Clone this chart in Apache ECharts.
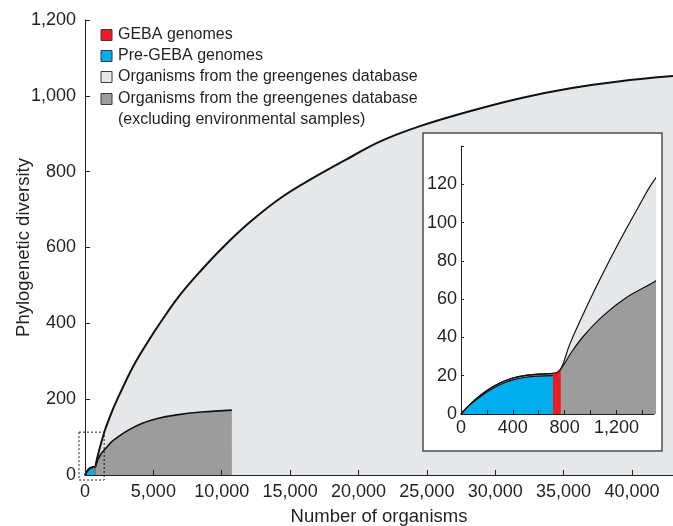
<!DOCTYPE html>
<html><head><meta charset="utf-8">
<script src="https://cdn.jsdelivr.net/npm/echarts@6/dist/echarts.min.js"></script>
<style>html,body{margin:0;padding:0;background:#fff}#c{width:673px;height:526px}</style>
</head><body><div id="c"></div>
<script>
// ---- data ----
const allOrganisms = [[0,0],[100,7],[200,12.3],[300,16.2],[400,18.8],[500,20.2],[600,20.8],[720,21.2],[770,23.5],[840,36.5],[970,56],[1100,74],[1230,91],[1360,107],[1490,122],[2000,170],[2560,215],[3500,285],[4520,347],[5700,412],[6950,475],[8500,540],[10130,602],[12000,665],[14280,730],[17000,790],[19500,840],[21600,880],[24500,920],[28200,960],[32000,995],[35500,1020],[39000,1038],[43000,1052]];
const culturedOrganisms = [[0,0],[100,7],[200,12.3],[300,16.2],[400,18.8],[500,20.2],[600,20.8],[720,21.2],[770,23.5],[850,32],[950,41],[1100,51.5],[1280,61],[1490,69],[1900,86],[2440,101],[3200,119],[4150,136],[5300,149],[6590,158],[8500,166],[10740,171]];
const preGeba = [[0,0],[40,3],[100,6.5],[200,11.5],[300,15.3],[400,17.8],[500,19.2],[600,19.8],[710,20]];
const geba = [[710,20.4],[770,23.3]];
const zoomBox = [1400, 113];

const mainXTicks = [0,5000,10000,15000,20000,25000,30000,35000,40000];
const insetXTicks = [0,200,400,600,800,1000,1200,1400];
const insetXLabels = [0,400,800,1200];

const legendLabels = ['GEBA genomes','Pre-GEBA genomes','Organisms from the greengenes database','Organisms from the greengenes database\n(excluding environmental samples)'];
const legendColors = ['#ed1c24','#00aeef','#e6e7e8','#9c9c9c'];

const FONT = 'Liberation Sans, Arial, Helvetica, sans-serif';
const TXT = '#231f20';
const fmt = v => v.toLocaleString('en-US');

const chart = echarts.init(document.getElementById('c'), null, {renderer:'canvas'});

function areaSeries(data, color, lineColor, lineWidth, xi, z) {
  return {
    type:'line', data, xAxisIndex:xi, yAxisIndex:xi, z,
    smooth:0.4, showSymbol:false, symbol:'none',
    lineStyle:{color:lineColor, width:lineWidth},
    areaStyle:{color, opacity:1}, itemStyle:{color}, silent:true, animation:false
  };
}

function axisCommon(z) {
  return {
    z,
    axisLine:{show:true, lineStyle:{color:'#231f20', width:1}},
    axisTick:{show:true, inside:true, length:5, lineStyle:{color:'#231f20', width:1}},
    splitLine:{show:false},
    axisLabel:{color:TXT, fontFamily:FONT, fontSize:18}
  };
}

// legend graphics
const legendGraphics = [];
const legendY = [35, 56, 77, 99];
legendLabels.forEach((lab, i) => {
  legendGraphics.push({type:'rect', z:6, shape:{x:101, y:legendY[i]-5.5, width:11, height:11},
    style:{fill:legendColors[i], stroke:'#3a3a3a', lineWidth:1}});
  lab.split('\n').forEach((line, j) => {
    legendGraphics.push({type:'text', z:6, x:118, y:legendY[i] + j*21,
      style:{text:line, fill:TXT, font:'16px ' + FONT, verticalAlign:'middle', align:'left'}});
  });
});

const option = {
  animation:false,
  backgroundColor:'#fff',
  grid:[
    {left:85, right:0, top:20, bottom:51, containLabel:false, outerBoundsMode:'none'},
    {left:461, top:146, width:193, height:268, containLabel:false, outerBoundsMode:'none'}
  ],
  xAxis:[
    Object.assign(axisCommon(3), {type:'value', gridIndex:0, min:0, max:43000,
      name:'Number of organisms', nameLocation:'middle', nameGap:32, nameMoveOverlap:false,
      nameTextStyle:{color:TXT, fontFamily:FONT, fontSize:18.5},
      axisTick:{show:true, inside:true, length:5, customValues:mainXTicks, lineStyle:{color:'#231f20'}},
      axisLabel:{color:TXT, fontFamily:FONT, fontSize:18, margin:8, customValues:mainXTicks, formatter:fmt}}),
    Object.assign(axisCommon(5), {type:'value', gridIndex:1, min:0, max:1490,
      axisTick:{show:true, inside:true, length:4, customValues:insetXTicks, lineStyle:{color:'#231f20'}},
      axisLabel:{color:TXT, fontFamily:FONT, fontSize:18, margin:5, customValues:insetXLabels, formatter:fmt}})
  ],
  yAxis:[
    Object.assign(axisCommon(3), {type:'value', gridIndex:0, min:0, max:1200, interval:200,
      name:'Phylogenetic diversity', nameLocation:'middle', nameGap:52, nameMoveOverlap:false,
      nameTextStyle:{color:TXT, fontFamily:FONT, fontSize:18.5},
      axisLabel:{color:TXT, fontFamily:FONT, fontSize:18, margin:9, formatter:fmt}}),
    Object.assign(axisCommon(5), {type:'value', gridIndex:1, min:0, max:140, interval:20,
      axisTick:{show:true, inside:true, length:3, lineStyle:{color:'#231f20'}},
      axisLabel:{color:TXT, fontFamily:FONT, fontSize:18, margin:4, formatter:v => v === 140 ? '' : fmt(v)}})
  ],
  series:[
    areaSeries(allOrganisms, legendColors[2], '#111', 2, 0, 2),
    areaSeries(culturedOrganisms, legendColors[3], '#111', 1.6, 0, 2),
    areaSeries(preGeba, legendColors[1], '#111', 1, 0, 2),
    areaSeries(geba, legendColors[0], legendColors[0], 1, 0, 2),
    areaSeries(allOrganisms, legendColors[2], '#111', 1.2, 1, 4),
    areaSeries(culturedOrganisms, legendColors[3], '#111', 1.2, 1, 4),
    areaSeries(preGeba, legendColors[1], '#111', 1.2, 1, 4),
    areaSeries(geba, legendColors[0], legendColors[0], 1, 1, 4)
  ],
  graphic:[
    {type:'rect', id:'insetFrame', z:3, shape:{x:423, y:133, width:239, height:318},
      style:{fill:'#fff', stroke:'#4d4d4d', lineWidth:1.5}}
  ].concat(legendGraphics)
};
chart.setOption(option);

// dashed box showing the zoomed region (computed through the main axes)
const p0 = chart.convertToPixel({gridIndex:0}, [0, 0]);
const p1 = chart.convertToPixel({gridIndex:0}, zoomBox);
chart.setOption({graphic:[{type:'rect', id:'zoomBox', z:6,
  shape:{x:p0[0]-6, y:p1[1], width:(p1[0]-p0[0])+6, height:(p0[1]-p1[1])+5},
  style:{fill:'none', stroke:'#231f20', lineWidth:1, lineDash:[2,2]}}]});
</script>
</body></html>
